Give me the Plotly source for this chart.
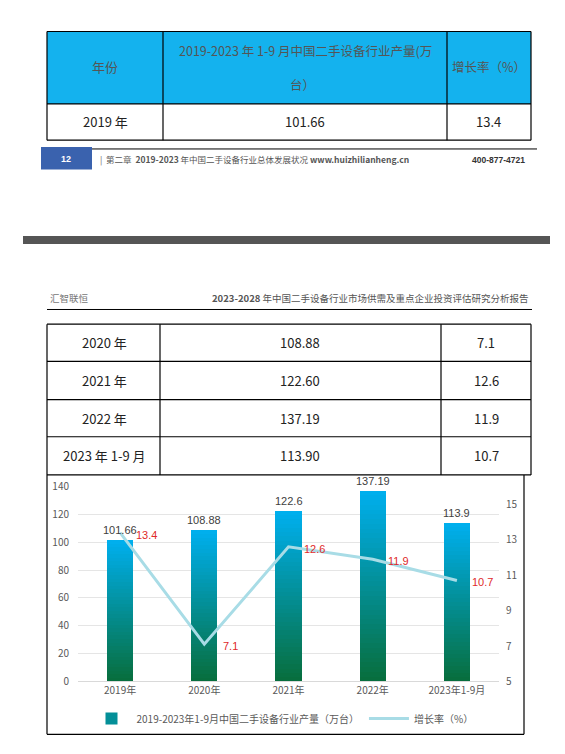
import plotly.graph_objects as go

# 数据
years = ["2019年", "2020年", "2021年", "2022年", "2023年1-9月"]
table_years = ["2019 年", "2020 年", "2021 年", "2022 年", "2023 年 1-9 月"]
output = [101.66, 108.88, 122.60, 137.19, 113.90]
output_labels = ["101.66", "108.88", "122.6", "137.19", "113.9"]
growth = [13.4, 7.1, 12.6, 11.9, 10.7]

W, H = 565, 754
CJK = "Noto Sans CJK SC"


def px(x):
    return x / W


def py(y):
    return 1 - y / H


fig = go.Figure()

# 渐变柱: 每根柱子切成若干层, 颜色从深绿到亮蓝
N = 40
top_c = (0, 176, 240)
bot_c = (8, 110, 60)
for k in range(N):
    t = (k + 0.5) / N
    c = tuple(int(bot_c[i] + (top_c[i] - bot_c[i]) * t) for i in range(3))
    fig.add_trace(go.Bar(
        x=years, y=[v / N for v in output],
        marker=dict(color="rgb(%d,%d,%d)" % c, line=dict(width=0)),
        width=0.31, showlegend=(k == N // 2),
        name="2019-2023年1-9月中国二手设备行业产量（万台）",
        legendgroup="bar", hoverinfo="skip",
    ))

fig.add_trace(go.Scatter(
    x=years, y=growth, yaxis="y2", mode="lines",
    line=dict(color="#A8DCE6", width=3), name="增长率（%）",
))

for x, v, s in zip(years, output, output_labels):
    fig.add_annotation(x=x, y=v, text=s, showarrow=False, yshift=10,
                       font=dict(size=11, color="#404040", family="Liberation Sans"))
for x, g in zip(years, growth):
    fig.add_annotation(x=x, y=g, yref="y2", text=str(g), showarrow=False,
                       xshift=26, yshift=-2,
                       font=dict(size=11, color="#E02A2A", family="Liberation Sans"))

shapes = []
ann = []


def line(x0, y0, x1, y1, color="#000", w=1.2):
    shapes.append(dict(type="line", xref="paper", yref="paper",
                       x0=px(x0), y0=py(y0), x1=px(x1), y1=py(y1),
                       line=dict(color=color, width=w)))


def rect(x0, y0, x1, y1, fill, lc=None, w=0):
    shapes.append(dict(type="rect", xref="paper", yref="paper", layer="below",
                       x0=px(x0), y0=py(y0), x1=px(x1), y1=py(y1),
                       fillcolor=fill, line=dict(color=lc or fill, width=w)))


def text(x, y, s, size=12, color="#222", anchor="center", family=CJK):
    ann.append(dict(xref="paper", yref="paper", x=px(x), y=py(y), text=s,
                    showarrow=False, xanchor=anchor, yanchor="middle",
                    font=dict(size=size, color=color, family=family)))


# 上方表格
cols = [47, 163, 447, 531]
rect(47, 23, 531, 97, "#14B2EE")
for y in [23, 97, 134]:
    line(47, y, 531, y)
for x in cols:
    line(x, 23, x, 134)
text(105, 59, "年份", 13, "#555")
text(305, 42, "2019-2023 年 1-9 月中国二手设备行业产量(万", 12.5, "#555")
text(302, 77, "台）", 12.5, "#555")
text(489, 59, "增长率（%）", 12.5, "#555")
text(105, 115, table_years[0], 13)
text(305, 115, "%.2f" % output[0], 13)
text(489, 115, str(growth[0]), 13)

# 页脚
rect(41, 141, 92, 164, "#3A62AE")
line(92, 143, 537, 143, "#000", 1)
text(66, 153, "<b>12</b>", 9, "white", family="Liberation Sans")
text(98, 154, "|  第二章  <b>2019-2023</b> 年中国二手设备行业总体发展状况 <b>www.huizhilianheng.cn</b>", 8.5, "#555", "left")
text(527, 154, "<b>400-877-4721</b>", 8.5, "#333", "right", "Liberation Sans")

# 分隔灰条
rect(23, 232, 550, 240, "#555555")

# 页眉
text(48, 295, "汇智联恒", 9.5, "#777", "left")
text(531, 295, "<b>2023-2028</b> 年中国二手设备行业市场供需及重点企业投资评估研究分析报告", 9.5, "#555", "right")
line(47, 307, 532, 307, "#000", 1)

# 下方表格
rows = [322, 360, 399, 437, 476]
for y in rows:
    line(47, y, 531, y)
for x in [47, 160, 441, 531]:
    line(x, 322, x, 476)
for i in range(1, 5):
    yc = (rows[i - 1] + rows[i]) / 2
    text(104, yc, table_years[i], 13)
    text(300, yc, "%.2f" % output[i], 13)
    text(486, yc, str(growth[i]), 13)

# 图表外框
line(47, 476, 47, 741)
line(524, 476, 524, 741)
line(47, 741, 524, 741)

fig.update_layout(
    width=W, height=H, margin=dict(l=0, r=0, t=0, b=0),
    paper_bgcolor="white", plot_bgcolor="white",
    barmode="stack", bargap=0.69,
    shapes=shapes,
    font=dict(family=CJK, color="#595959", size=10),
    xaxis=dict(domain=[px(78), px(499)], tickfont=dict(size=10, color="#595959"),
               showline=True, linecolor="#D9D9D9", ticks=""),
    yaxis=dict(domain=[py(687), py(488)], range=[0, 140], dtick=20,
               gridcolor="#E5E5E5", zeroline=False, tickfont=dict(size=10),
               ticklabelstandoff=8),
    yaxis2=dict(overlaying="y", side="right", range=[5, 16],
                tickvals=[5, 7, 9, 11, 13, 15], showgrid=False, zeroline=False,
                tickfont=dict(size=10), ticklabelstandoff=6),
    legend=dict(orientation="h", x=0.5, xanchor="center", y=py(725),
                yanchor="middle", font=dict(size=10, color="#595959"),
                itemwidth=40, traceorder="normal"),
    showlegend=True,
)
for a in ann:
    fig.add_annotation(**a)

fig.write_html("out.html", config={"displayModeBar": False},
               post_script="document.body.style.margin='0';document.body.style.overflow='hidden';")
